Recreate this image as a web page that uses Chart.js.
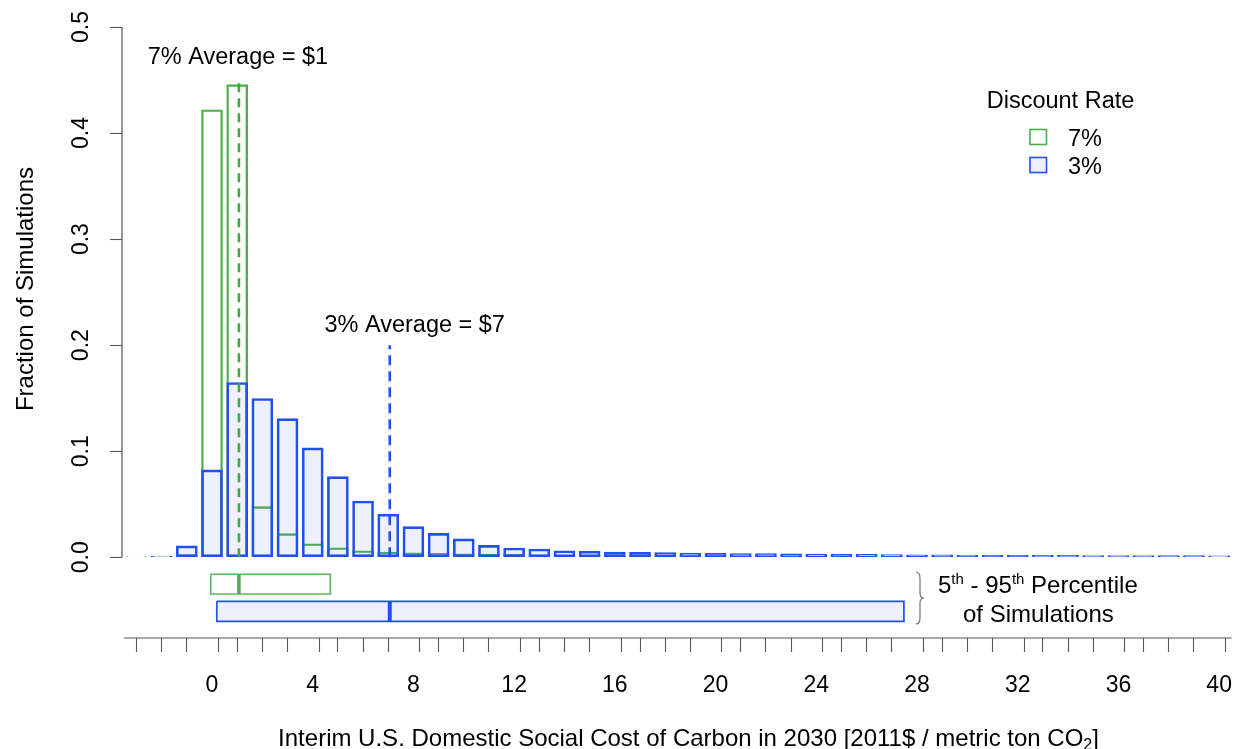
<!DOCTYPE html>
<html>
<head>
<meta charset="utf-8">
<script src="https://cdn.jsdelivr.net/npm/chart.js@4.4.1/dist/chart.umd.min.js"></script>
<style>
html,body{margin:0;padding:0;background:#ffffff;}
#wrap{width:1243px;height:749px;position:relative;}
</style>
</head>
<body>
<div id="wrap"><canvas id="c"></canvas></div>
<script>
// ---------------- data ----------------
const bins = [-3,-2,-1,0,1,2,3,4,5,6,7,8,9,10,11,12,13,14,15,16,17,18,19,20,
              21,22,23,24,25,26,27,28,29,30,31,32,33,34,35,36,37,38,39,40];
// 3% discount rate: fraction of simulations per $1 bin
const share3 = [0.0004,0.0012,0.0107,0.0824,0.1648,0.1497,0.1308,0.1031,0.0760,0.0531,
                0.0406,0.0289,0.0226,0.0173,0.0113,0.0088,0.0078,0.0062,0.0057,0.0050,
                0.0047,0.0044,0.0040,0.0038,0.0036,0.0035,0.0033,0.0030,0.0029,0.0027,
                0.0026,0.0024,0.0023,0.0022,0.0020,0.0019,0.0018,0.0018,0.0017,0.0016,
                0.0016,0.0015,0.0015,0.0014];
// 7% discount rate
const share7 = [null,0.0003,0.0025,0.4220,0.4456,0.0477,0.0223,0.0128,0.0090,0.0062,
                0.0050,0.0043,0.0037,0.0033,0.0030,0.0027,0.0024,0.0022,0.0020,0.0019,
                0.0018,0.0017,0.0016,0.0015,0.0014,0.0013,0.0012,0.0012,0.0011,0.0011,
                0.0010,0.0010,0.0009,0.0009,null,null,null,null,null,null,
                null,null,null,null];
const yTickValues = [0.0,0.1,0.2,0.3,0.4,0.5];
const xLabelValues = [0,4,8,12,16,20,24,28,32,36,40];
const xEdgeValues = bins.map(b => b - 0.5).concat([40.5]);
const average7 = 1.07;
const average3 = 7.06;
const range7 = [-0.05, 4.70];   // 5th - 95th percentile, 7%
const range3 = [0.19, 27.48];   // 5th - 95th percentile, 3%
const seriesLabels = ['7%', '3%'];

// ---------------- styles / layout ----------------
const FONT = "'Liberation Sans', Arial, Helvetica, sans-serif";
const GREEN = '#4caf4a';
const GREEN_DASH = '#43a843';
const BLUE = '#2150f2';
const BLUE_FILL = 'rgba(70,95,235,0.09)';
const AXIS = '#555555';
const row7 = [-0.0160, -0.0346];
const row3 = [-0.0415, -0.0604];
const avgTop7 = 0.452, avgTop3 = 0.200;

const pts = (ys) => bins.map((b, i) => ({x: b, y: ys[i]}));
const rect = (r, row) => [
  {x: r[0], y: row[0]}, {x: r[1], y: row[0]}, {x: r[1], y: row[1]},
  {x: r[0], y: row[1]}, {x: r[0], y: row[0]}
];

const decor = {
  id: 'decor',
  afterDraw(chart) {
    const ctx = chart.ctx;
    const xs = chart.scales.x, ys = chart.scales.y;
    const X = v => xs.getPixelForValue(v), Y = v => ys.getPixelForValue(v);
    ctx.save();
    // axis lines
    ctx.strokeStyle = AXIS; ctx.lineWidth = 1.2;
    ctx.beginPath();
    ctx.moveTo(chart.chartArea.left, Y(0)); ctx.lineTo(chart.chartArea.left, Y(0.5));
    ctx.stroke();
    ctx.beginPath();
    ctx.moveTo(X(-3.5), chart.chartArea.bottom); ctx.lineTo(X(40.5), chart.chartArea.bottom);
    ctx.stroke();

    ctx.fillStyle = '#000';
    // annotations
    ctx.font = '23.5px ' + FONT;
    ctx.textAlign = 'center'; ctx.textBaseline = 'alphabetic';
    ctx.fillText('7% Average = $1', X(average7) - 1, Y(0.4725) + 8);
    ctx.fillText('3% Average = $7', X(8.05), Y(0.2200) + 8);

    // y axis title
    ctx.save();
    ctx.translate(33, 289);
    ctx.rotate(-Math.PI / 2);
    ctx.font = '24px ' + FONT;
    ctx.textAlign = 'center';
    ctx.fillText('Fraction of Simulations', 0, 0);
    ctx.restore();

    // x axis title with subscript
    const main = 'Interim U.S. Domestic Social Cost of Carbon in 2030 [2011$ / metric ton CO';
    ctx.font = '24px ' + FONT;
    const w1 = ctx.measureText(main).width;
    ctx.font = '16px ' + FONT;
    const w2 = ctx.measureText('2').width;
    ctx.font = '24px ' + FONT;
    const w3 = ctx.measureText(']').width;
    let sx = 688.5 - (w1 + w2 + w3) / 2;
    const by = 746;
    ctx.textAlign = 'left';
    ctx.fillText(main, sx, by); sx += w1;
    ctx.font = '16px ' + FONT; ctx.fillText('2', sx, by + 4); sx += w2;
    ctx.font = '24px ' + FONT; ctx.fillText(']', sx, by);

    // percentile note with superscripts
    const seq = [['5', 0], ['th', 1], [' - 95', 0], ['th', 1], [' Percentile', 0]];
    let px = 938;
    for (const [t, sup] of seq) {
      ctx.font = (sup ? '15px ' : '24px ') + FONT;
      ctx.fillText(t, px, sup ? 584 : 593);
      px += ctx.measureText(t).width;
    }
    ctx.font = '24px ' + FONT;
    ctx.fillText('of Simulations', 963, 622);

    // brace
    ctx.strokeStyle = '#666'; ctx.lineWidth = 1.1;
    const bx = 916, t0 = 572, t1 = 624, m = 598;
    ctx.beginPath();
    ctx.moveTo(bx, t0);
    ctx.quadraticCurveTo(bx + 4, t0, bx + 4, t0 + 6);
    ctx.lineTo(bx + 4, m - 5);
    ctx.quadraticCurveTo(bx + 4, m, bx + 8, m);
    ctx.quadraticCurveTo(bx + 4, m, bx + 4, m + 5);
    ctx.lineTo(bx + 4, t1 - 6);
    ctx.quadraticCurveTo(bx + 4, t1, bx, t1);
    ctx.stroke();

    // legend
    ctx.font = '23.5px ' + FONT;
    ctx.textAlign = 'center';
    ctx.fillText('Discount Rate', 1060.5, 108);
    ctx.textAlign = 'left';
    ctx.lineWidth = 1.6;
    ctx.strokeStyle = GREEN; ctx.fillStyle = '#fff';
    ctx.fillRect(1030, 129.5, 16.5, 15); ctx.strokeRect(1030, 129.5, 16.5, 15);
    ctx.strokeStyle = BLUE; ctx.fillStyle = '#eef0fd';
    ctx.fillRect(1030, 157.5, 16.5, 15); ctx.strokeRect(1030, 157.5, 16.5, 15);
    ctx.fillStyle = '#000';
    ctx.fillText(seriesLabels[0], 1068, 146);
    ctx.fillText(seriesLabels[1], 1068, 174);
    ctx.restore();
  }
};

new Chart(document.getElementById('c'), {
  type: 'bar',
  data: {
    datasets: [
      { type: 'line', label: 'avg7', data: [{x: average7, y: 0}, {x: average7, y: avgTop7}],
        borderColor: GREEN_DASH, borderWidth: 2.6, borderDash: [9, 6], pointRadius: 0, fill: false, order: 0 },
      { type: 'line', label: 'avg3', data: [{x: average3, y: 0}, {x: average3, y: avgTop3}],
        borderColor: BLUE, borderWidth: 2.6, borderDash: [10, 6], pointRadius: 0, fill: false, order: 0 },
      { type: 'line', label: 'med7', data: [{x: average7, y: row7[0]}, {x: average7, y: row7[1]}],
        borderColor: GREEN, borderWidth: 3.5, pointRadius: 0, fill: false, order: 0 },
      { type: 'line', label: 'med3', data: [{x: average3, y: row3[0]}, {x: average3, y: row3[1]}],
        borderColor: BLUE, borderWidth: 4, pointRadius: 0, fill: false, order: 0 },
      { type: 'bar', label: seriesLabels[1], data: pts(share3),
        backgroundColor: BLUE_FILL, borderColor: BLUE, borderWidth: 2, borderSkipped: false,
        barThickness: 21, grouped: false, order: 1 },
      { type: 'bar', label: seriesLabels[0], data: pts(share7),
        backgroundColor: 'rgba(255,255,255,0)', borderColor: GREEN, borderWidth: 1.7, borderSkipped: false,
        barThickness: 21, grouped: false, order: 2 },
      { type: 'line', label: 'box7', data: rect(range7, row7), fill: 'shape',
        backgroundColor: 'rgba(255,255,255,0)', borderColor: '#5cb85c', borderWidth: 1.7, pointRadius: 0, tension: 0, order: 3 },
      { type: 'line', label: 'box3', data: rect(range3, row3), fill: 'shape',
        backgroundColor: '#eef0fd', borderColor: BLUE, borderWidth: 1.7, pointRadius: 0, tension: 0, order: 3 }
    ]
  },
  options: {
    responsive: true,
    maintainAspectRatio: false,
    animation: false,
    devicePixelRatio: 1,
    layout: { padding: { left: 0, top: 27, right: 10, bottom: 0 } },
    plugins: { legend: { display: false }, tooltip: { enabled: false } },
    scales: {
      x: {
        type: 'linear', min: -3.574, max: 40.55, offset: false,
        afterBuildTicks: (s) => {
          const vals = xEdgeValues.concat(xLabelValues).sort((a, b) => a - b);
          s.ticks = vals.map(v => ({value: v}));
        },
        afterFit: (s) => { s.height = 111; s.paddingLeft = 0; s.paddingRight = 0; },
        ticks: {
          autoSkip: false, maxRotation: 0, minRotation: 0, padding: 20,
          color: '#000', font: { family: FONT, size: 23 },
          callback: (v) => Number.isInteger(v) ? String(v) : ''
        },
        grid: {
          drawOnChartArea: false, drawTicks: true, tickLength: 14, tickWidth: 1.1,
          tickColor: (c) => (c.tick && Number.isInteger(c.tick.value)) ? 'rgba(0,0,0,0)' : AXIS
        },
        border: { display: false }
      },
      y: {
        type: 'linear', min: -0.0761, max: 0.5,
        afterBuildTicks: (s) => { s.ticks = yTickValues.map(v => ({value: v})); },
        afterFit: (s) => { s.width = 122; s.paddingTop = 0; s.paddingBottom = 0; },
        ticks: {
          minRotation: 90, maxRotation: 90, crossAlign: 'center', padding: 12,
          color: '#000', font: { family: FONT, size: 23 },
          callback: (v) => Number(v).toFixed(1)
        },
        grid: { drawOnChartArea: false, drawTicks: true, tickLength: 12, tickWidth: 1.1, tickColor: AXIS },
        border: { display: false }
      }
    }
  },
  plugins: [decor]
});
</script>
</body>
</html>
